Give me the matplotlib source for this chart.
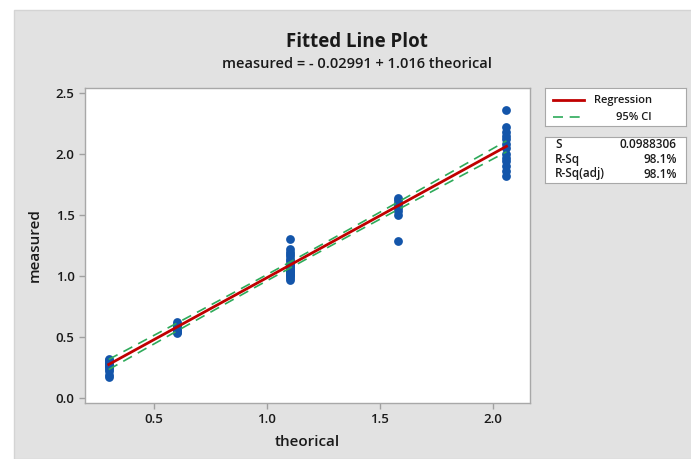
import numpy as np
import matplotlib.pyplot as plt
from matplotlib.patches import Rectangle
from matplotlib.lines import Line2D

plt.rcParams['font.family'] = ['Open Sans', 'DejaVu Sans']

# data
x_levels = [0.3, 0.6, 1.1, 1.58, 2.06]
y_03 = [0.17, 0.19, 0.22, 0.24, 0.25, 0.26, 0.27, 0.28, 0.29, 0.30, 0.31, 0.32]
y_06 = [0.53, 0.54, 0.55, 0.56, 0.57, 0.58, 0.59, 0.60, 0.61, 0.62]
y_11 = [0.97, 0.98, 1.00, 1.01, 1.02, 1.03, 1.04, 1.05, 1.06, 1.07, 1.08,
        1.09, 1.10, 1.12, 1.14, 1.16, 1.18, 1.20, 1.22, 1.30]
y_158 = [1.29, 1.50, 1.53, 1.56, 1.58, 1.60, 1.62, 1.64]
y_206 = [1.82, 1.86, 1.90, 1.94, 1.97, 2.00, 2.05, 2.08, 2.12, 2.15, 2.18,
         2.22, 2.36]
groups = [y_03, y_06, y_11, y_158, y_206]

intercept = -0.02991
slope = 1.016
s_value = 0.0988306
r_sq = 98.1
r_sq_adj = 98.1

x = np.concatenate([[xv] * len(g) for xv, g in zip(x_levels, groups)])
y = np.concatenate(groups)

# regression line and 95% CI of the mean
xx = np.linspace(min(x_levels), max(x_levels), 100)
yy = intercept + slope * xx
n = len(x)
sxx = np.sum((x - x.mean()) ** 2)
se = s_value * np.sqrt(1 / n + (xx - x.mean()) ** 2 / sxx)
t = 1.985
lo = yy - t * se
hi = yy + t * se

fig = plt.figure(figsize=(6.91, 4.59), dpi=100)
fig.patch.set_facecolor('white')
fig.patches.append(Rectangle((14 / 691, 0), 1, 1 - 10 / 459, transform=fig.transFigure,
                             facecolor='#e2e2e2', edgecolor='#d4d4d4', lw=1, zorder=-10))

ax = fig.add_axes([85 / 691, 1 - 403 / 459, 445 / 691, 315 / 459])
ax.set_facecolor('white')
ax.scatter(x, y, s=40, color='#1355aa', zorder=3, linewidths=0)
ax.plot(xx, yy, color='#c00000', lw=2, zorder=4)
ax.plot(xx, lo, color='#2eaa5a', lw=1.2, ls=(0, (6, 4)), zorder=4)
ax.plot(xx, hi, color='#2eaa5a', lw=1.2, ls=(0, (6, 4)), zorder=4)

ax.set_xlim(0.195, 2.164)
ax.set_ylim(-0.041, 2.541)
ax.set_xticks([0.5, 1.0, 1.5, 2.0])
ax.set_yticks([0.0, 0.5, 1.0, 1.5, 2.0, 2.5])
ax.set_xticklabels(['0.5', '1.0', '1.5', '2.0'])
ax.set_yticklabels(['0.0', '0.5', '1.0', '1.5', '2.0', '2.5'])
ax.tick_params(colors='#a0a0a0', labelcolor='#1a1a1a', labelsize=9.5, length=4, width=1)
for lab in ax.get_xticklabels() + ax.get_yticklabels():
    lab.set_fontweight('semibold')
for sp in ax.spines.values():
    sp.set_color('#a8a8a8')
    sp.set_linewidth(1)

ax.set_xlabel('theorical', fontsize=11, fontweight='semibold', color='#1a1a1a', labelpad=6)
ax.set_ylabel('measured', fontsize=11, fontweight='semibold', color='#1a1a1a', labelpad=10)

fig.text(357 / 691, 1 - 42 / 459, 'Fitted Line Plot', ha='center', va='center',
         fontsize=13.5, fontweight='bold', color='#1a1a1a')
fig.text(357 / 691, 1 - 64 / 459, 'measured = - 0.02991 + 1.016 theorical', ha='center',
         va='center', fontsize=10.5, fontweight='semibold', color='#1a1a1a')

# legend box
lg = fig.add_axes([545 / 691, 1 - 126 / 459, 141 / 691, 38 / 459])
lg.set_xlim(545, 686)
lg.set_ylim(126, 88)
lg.set_xticks([])
lg.set_yticks([])
for sp in lg.spines.values():
    sp.set_color('#a8a8a8')
lg.add_line(Line2D([553, 584], [100, 100], color='#c00000', lw=2))
lg.add_line(Line2D([553, 584], [117, 117], color='#2eaa5a', lw=1.2, ls=(0, (6, 4))))
lg.text(652, 100, 'Regression', ha='right', va='center', fontsize=8,
        fontweight='semibold', color='#1a1a1a')
lg.text(652, 117, '95% CI', ha='right', va='center', fontsize=8,
        fontweight='semibold', color='#1a1a1a')

# stats box
st = fig.add_axes([545 / 691, 1 - 183 / 459, 141 / 691, 46 / 459])
st.set_xlim(545, 686)
st.set_ylim(183, 137)
st.set_xticks([])
st.set_yticks([])
for sp in st.spines.values():
    sp.set_color('#a8a8a8')
rows = [('S', f'{s_value}'), ('R-Sq', f'{r_sq}%'), ('R-Sq(adj)', f'{r_sq_adj}%')]
for i, (k, v) in enumerate(rows):
    yy_row = 145 + i * 14.5
    st.text(555, yy_row, k, ha='left', va='center', fontsize=8.5,
            fontweight='semibold', color='#1a1a1a')
    st.text(677, yy_row, v, ha='right', va='center', fontsize=8.5,
            fontweight='semibold', color='#1a1a1a')

fig.savefig('out.png', dpi=100)
